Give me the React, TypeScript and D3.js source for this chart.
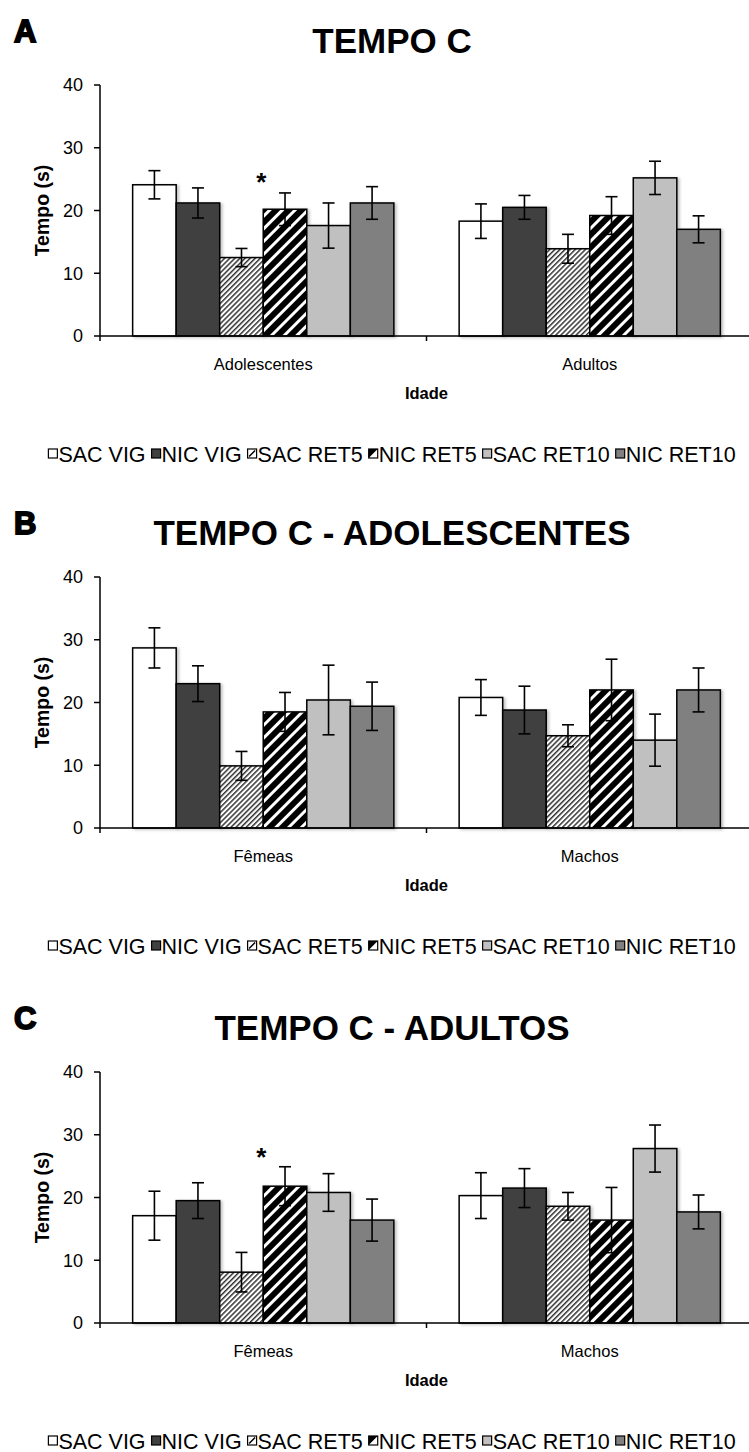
import React from 'react';
import * as d3 from 'd3';

// groups (same for every panel)
const series = ['SAC VIG', 'NIC VIG', 'SAC RET5', 'NIC RET5', 'SAC RET10', 'NIC RET10'];

const panelLetters = ['A', 'B', 'C'];
const panelTitles = ['TEMPO C', 'TEMPO C - ADOLESCENTES', 'TEMPO C - ADULTOS'];

const categoriesA = ['Adolescentes', 'Adultos'];
const categoriesB = ['Fêmeas', 'Machos'];
const categoriesC = ['Fêmeas', 'Machos'];

// means per category, in series order
const meansA = [
  [24.1, 21.2, 12.5, 20.2, 17.6, 21.2],
  [18.3, 20.5, 13.9, 19.2, 25.2, 17.0],
];
const errorsA = [
  [2.25, 2.4, 1.45, 2.6, 3.6, 2.6],
  [2.75, 1.9, 2.3, 3.0, 2.65, 2.15],
];

const meansB = [
  [28.7, 23.0, 9.9, 18.5, 20.4, 19.4],
  [20.8, 18.8, 14.7, 22.0, 14.0, 22.0],
];
const errorsB = [
  [3.2, 2.85, 2.3, 3.1, 5.55, 3.85],
  [2.85, 3.8, 1.75, 4.9, 4.15, 3.5],
];

const meansC = [
  [17.1, 19.5, 8.1, 21.8, 20.8, 16.4],
  [20.3, 21.5, 18.6, 16.4, 27.8, 17.7],
];
const errorsC = [
  [3.9, 2.85, 3.15, 3.1, 3.0, 3.35],
  [3.65, 3.1, 2.2, 5.2, 3.75, 2.7],
];

// significance marks: category index, series index (star sits at that bar's left edge), height in seconds
const starsA = [{ cat: 0, ser: 3, value: 25.3 }];
const starsB: { cat: number; ser: number; value: number }[] = [];
const starsC = [{ cat: 0, ser: 3, value: 27.2 }];

const yTicks = [0, 10, 20, 30, 40];
const yLabel = 'Tempo (s)';
const xLabel = 'Idade';

const fills = ['#ffffff', '#404040', 'url(#hatchThin)', 'url(#hatchBold)', '#c0c0c0', '#808080'];

const panels = [
  { categories: categoriesA, means: meansA, errors: errorsA, stars: starsA },
  { categories: categoriesB, means: meansB, errors: errorsB, stars: starsB },
  { categories: categoriesC, means: meansC, errors: errorsC, stars: starsC },
];

const W = 749;
const H = 1452;
const FONT = '"Liberation Sans", Arial, sans-serif';
const baselines = [336, 828, 1323];
const plotH = 251;
const left = 100;
const right = 753;

const legendFont = 21.5;
let measureCtx: CanvasRenderingContext2D | null = null;
function textWidth(s: string, size: number) {
  if (!measureCtx) measureCtx = document.createElement('canvas').getContext('2d');
  measureCtx!.font = `${size}px "Liberation Sans", Arial, sans-serif`;
  return measureCtx!.measureText(s).width;
}

function Swatch({ i, x, y }: { i: number; x: number; y: number }) {
  const s = 9;
  if (i === 2) {
    return (
      <g>
        <rect x={x} y={y} width={s} height={s} fill="#fff" stroke="#000" strokeWidth={1.2} />
        <line x1={x + 1.5} y1={y + s - 1.5} x2={x + s - 1.5} y2={y + 1.5} stroke="#000" strokeWidth={1.5} />
      </g>
    );
  }
  if (i === 3) {
    return (
      <g>
        <rect x={x} y={y} width={s} height={s} fill="#fff" stroke="#000" strokeWidth={1.2} />
        <path d={`M${x},${y}H${x + s}L${x},${y + s}Z`} fill="#000" />
      </g>
    );
  }
  return <rect x={x} y={y} width={s} height={s} fill={fills[i]} stroke="#000" strokeWidth={1.2} />;
}

function Legend({ cy }: { cy: number }) {
  const space = textWidth(' ', legendFont);
  const items = series.map((name) => 10 + textWidth(name, legendFont));
  const total = d3.sum(items) + space * (items.length - 1);
  let x = 392 - total / 2;
  return (
    <g>
      {series.map((name, i) => {
        const x0 = x;
        x += items[i] + space;
        return (
          <g key={name}>
            <Swatch i={i} x={x0} y={cy - 5} />
            <text x={x0 + 10} y={cy + 7.5} fontSize={legendFont} fontFamily={FONT}>{name}</text>
          </g>
        );
      })}
    </g>
  );
}

function Panel({ p, idx }: { p: typeof panels[number]; idx: number }) {
  const base = baselines[idx];
  const y = d3.scaleLinear().domain([0, 40]).range([base, base - plotH]);
  const x = d3.scaleBand().domain(p.categories).range([left, right]);
  const xs = d3.scaleBand().domain(series).range([0, x.bandwidth()]).paddingOuter(0.75);
  const bw = xs.bandwidth();
  const cx = (left + right) / 2;
  return (
    <g>
      <text x={14} y={base - 294} fontSize={31} fontWeight="bold" fontFamily={FONT}
        stroke="#000" strokeWidth={1.8}>{panelLetters[idx]}</text>
      <text x={392} y={base - 283} fontSize={35} fontWeight="bold" fontFamily={FONT}
        textAnchor="middle">{panelTitles[idx]}</text>

      {p.categories.map((c, ci) => (
        <g key={c} transform={`translate(${x(c)},0)`}>
          {series.map((s, si) => {
            const v = p.means[ci][si];
            return (
              <rect key={s} x={xs(s)} y={y(v)} width={bw} height={y(0) - y(v)}
                fill={fills[si]} stroke="#000" strokeWidth={1.5} filter="url(#shadow)" />
            );
          })}
          {series.map((s, si) => {
            const v = p.means[ci][si];
            const e = p.errors[ci][si];
            const mx = xs(s)! + bw / 2;
            return (
              <g key={s} stroke="#000" strokeWidth={1.6}>
                <line x1={mx} x2={mx} y1={y(v + e)} y2={y(v - e)} />
                <line x1={mx - 6} x2={mx + 6} y1={y(v + e)} y2={y(v + e)} />
                <line x1={mx - 6} x2={mx + 6} y1={y(v - e)} y2={y(v - e)} />
              </g>
            );
          })}
        </g>
      ))}

      {p.stars.map((st, k) => (
        <text key={k} x={x(p.categories[st.cat])! + xs(series[st.ser])! - 2} y={y(st.value) + 14}
          fontSize={26} fontWeight="bold" fontFamily={FONT} textAnchor="middle">*</text>
      ))}

      {/* y axis */}
      <line x1={left} x2={left} y1={y(0)} y2={y(40)} stroke="#000" strokeWidth={1.5} />
      {yTicks.map((t) => (
        <g key={t}>
          <line x1={left - 6} x2={left} y1={y(t)} y2={y(t)} stroke="#000" strokeWidth={1.5} />
          <text x={left - 17} y={y(t)} dy="0.36em" textAnchor="end" fontSize={18} fontFamily={FONT}>{t}</text>
        </g>
      ))}
      <text transform={`translate(49,${y(20)}) rotate(-90)`} textAnchor="middle" fontSize={19.5}
        fontWeight="bold" fontFamily={FONT}>{yLabel}</text>

      {/* x axis */}
      <line x1={left} x2={right} y1={y(0)} y2={y(0)} stroke="#000" strokeWidth={1.5} />
      {[left, ...p.categories.map((c) => x(c)! + x.bandwidth())].map((tx, k) => (
        <line key={k} x1={tx} x2={tx} y1={y(0)} y2={y(0) + 5} stroke="#000" strokeWidth={1.5} />
      ))}
      {p.categories.map((c) => (
        <text key={c} x={x(c)! + x.bandwidth() / 2} y={base + 34} textAnchor="middle" fontSize={16.5}
          fontFamily={FONT}>{c}</text>
      ))}
      <text x={cx} y={base + 63} textAnchor="middle" fontSize={16.5} fontWeight="bold" fontFamily={FONT}>{xLabel}</text>

      <Legend cy={base + 118} />
    </g>
  );
}

export default function App() {
  return (
    <svg width={W} height={H} style={{ position: 'absolute', left: 0, top: 0, background: '#fff' }}>
      <defs>
        <pattern id="hatchThin" patternUnits="userSpaceOnUse" width={3.6} height={3.6} patternTransform="rotate(45)">
          <rect width={3.6} height={3.6} fill="#fff" />
          <line x1={0} y1={0} x2={0} y2={3.6} stroke="#333" strokeWidth={3} />
        </pattern>
        <pattern id="hatchBold" patternUnits="userSpaceOnUse" width={9} height={9} patternTransform="rotate(45)">
          <rect width={9} height={9} fill="#fff" />
          <line x1={0} y1={0} x2={0} y2={9} stroke="#000" strokeWidth={12} />
        </pattern>
        <filter id="shadow" x="-10%" y="-10%" width="130%" height="130%">
          <feDropShadow dx={2} dy={1} stdDeviation={1.5} floodColor="#000" floodOpacity={0.25} />
        </filter>
      </defs>
      {panels.map((p, i) => (
        <Panel key={i} p={p} idx={i} />
      ))}
    </svg>
  );
}
